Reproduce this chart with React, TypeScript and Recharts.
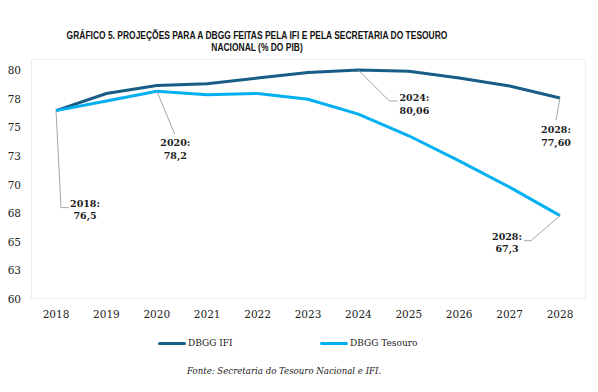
import React from "react";
import { LineChart, Line, XAxis, YAxis, Legend } from "recharts";

const years = ["2018", "2019", "2020", "2021", "2022", "2023", "2024", "2025", "2026", "2027", "2028"];
const dbggIfi = [76.5, 78.0, 78.7, 78.85, 79.35, 79.85, 80.06, 79.95, 79.35, 78.65, 77.6];
const dbggTesouro = [76.5, 77.35, 78.2, 77.9, 78.0, 77.5, 76.2, 74.3, 72.1, 69.8, 67.3];
const yTicks = [60, 62.5, 65, 67.5, 70, 72.5, 75, 77.5, 80];
const seriesNames = ["DBGG IFI", "DBGG Tesouro"];
const title1 = "GRÁFICO 5. PROJEÇÕES PARA A DBGG FEITAS PELA IFI E PELA SECRETARIA DO TESOURO";
const title2 = "NACIONAL (% DO PIB)";
const source = "Fonte: Secretaria do Tesouro Nacional e IFI.";

// annotated points: index and decimals shown
const ifiAnnotations = [
  { index: 6, decimals: 2 },
  { index: 10, decimals: 2 },
];
const tesouroAnnotations = [
  { index: 0, decimals: 1 },
  { index: 2, decimals: 1 },
  { index: 10, decimals: 1 },
];

const data = years.map((y, i) => ({ year: y, ifi: dbggIfi[i], tesouro: dbggTesouro[i] }));

const DARK = "#175d86";
const LIGHT = "#00b0f0";
const LEADER = "#a6a6a6";
const SERIF = "'DejaVu Serif', serif";

// layout of callouts relative to the point (styling only)
const calloutLayout: Record<string, { path: number[][]; dx: number; dy: number }> = {
  "ifi-6": { path: [[0, 0], [31, 31], [39, 31]], dx: 56, dy: 27 },
  "ifi-10": { path: [[0, 0], [-4, 22]], dx: -4, dy: 31 },
  "tesouro-0": { path: [[0, 0], [5, 97], [13, 97]], dx: 29, dy: 92 },
  "tesouro-2": { path: [[0, 0], [18, 43]], dx: 18.5, dy: 51 },
  "tesouro-10": { path: [[0, 0], [-29, 25], [-36, 25]], dx: -53, dy: 20 },
};

const fmt = (v: number, d: number) => v.toFixed(d).replace(".", ",");

const makeLabel = (key: string, annotations: { index: number; decimals: number }[]) => (props: any) => {
  const { x, y, index, value } = props;
  const ann = annotations.find((a) => a.index === index);
  if (!ann) return null;
  const lay = calloutLayout[`${key}-${index}`];
  const pts = lay.path.map((p) => `${x + p[0]},${y + p[1]}`).join(" ");
  return (
    <g key={`${key}-${index}`}>
      <polyline points={pts} fill="none" stroke={LEADER} strokeWidth={1} />
      <text
        x={x + lay.dx}
        y={y + lay.dy}
        textAnchor="middle"
        dominantBaseline="central"
        fontFamily={SERIF}
        fontWeight="bold"
        fontSize={9.5}
        fill="#1a1a1a"
      >
        <tspan x={x + lay.dx} dy={0}>{`${years[index]}:`}</tspan>
        <tspan x={x + lay.dx} dy={12.5}>{fmt(value, ann.decimals)}</tspan>
      </text>
    </g>
  );
};

const LegendContent = (props: any) => {
  const { payload } = props;
  return (
    <div style={{ position: "relative", width: 598, height: 14 }}>
      {(payload || []).map((p: any, i: number) => (
        <div
          key={p.value}
          style={{ position: "absolute", left: 158 + i * 162, top: 0, height: 14, display: "flex", alignItems: "center" }}
        >
          <div style={{ width: 28, height: 3, background: p.color, borderRadius: 2 }} />
          <span style={{ marginLeft: 2, fontFamily: SERIF, fontSize: 9, color: "#1a1a1a", whiteSpace: "nowrap" }}>
            {p.value}
          </span>
        </div>
      ))}
    </div>
  );
};

export default function App() {
  return (
    <div style={{ position: "absolute", left: 0, top: 0, width: 598, height: 392, background: "#fff", overflow: "hidden" }}>
      <div
        style={{
          position: "absolute",
          left: 0,
          top: 30,
          width: 514,
          textAlign: "center",
          fontFamily: "'Liberation Sans', sans-serif",
          fontWeight: "bold",
          fontSize: 10,
          lineHeight: "12px",
          color: "#111",
          whiteSpace: "nowrap",
          transform: "scaleX(0.845)",
          transformOrigin: "257px 0",
        }}
      >
        <div>{title1}</div>
        <div>{title2}</div>
      </div>
      <div
        style={{
          position: "absolute",
          left: 31,
          top: 59,
          width: 553,
          height: 238,
          border: "1px solid #eeeeee",
        }}
      />
      <div style={{ position: "absolute", left: 0, top: 0 }}>
        <LineChart width={598} height={392} data={data} margin={{ top: 70, right: 13, bottom: 49, left: 0 }}>
          <XAxis
            dataKey="year"
            axisLine={false}
            tickLine={false}
            tickSize={0}
            tickMargin={12}
            height={30}
            padding={{ left: 25, right: 25 }}
            interval={0}
            tick={{ fontFamily: SERIF, fontSize: 10.5, fill: "#222" }}
          />
          <YAxis
            domain={[60, 80]}
            ticks={yTicks}
            width={31}
            axisLine={false}
            tickLine={false}
            tickSize={0}
            tickMargin={10}
            interval={0}
            tickFormatter={(v: number) => String(Math.round(v))}
            tick={{ fontFamily: SERIF, fontSize: 10.5, fill: "#222" }}
          />
          <Legend
            content={<LegendContent />}
            wrapperStyle={{ position: "absolute", top: 336, left: 0, width: 598, height: 14 }}
          />
          <Line
            type="linear"
            dataKey="ifi"
            name={seriesNames[0]}
            stroke={DARK}
            strokeWidth={3}
            dot={false}
            isAnimationActive={false}
            label={makeLabel("ifi", ifiAnnotations)}
          />
          <Line
            type="linear"
            dataKey="tesouro"
            name={seriesNames[1]}
            stroke={LIGHT}
            strokeWidth={3}
            dot={false}
            isAnimationActive={false}
            label={makeLabel("tesouro", tesouroAnnotations)}
          />
        </LineChart>
      </div>
      <div
        style={{
          position: "absolute",
          left: 187,
          top: 365,
          fontFamily: SERIF,
          fontStyle: "italic",
          fontSize: 8.6,
          lineHeight: "12px",
          color: "#1a1a1a",
          whiteSpace: "nowrap",
        }}
      >
        {source}
      </div>
    </div>
  );
}
